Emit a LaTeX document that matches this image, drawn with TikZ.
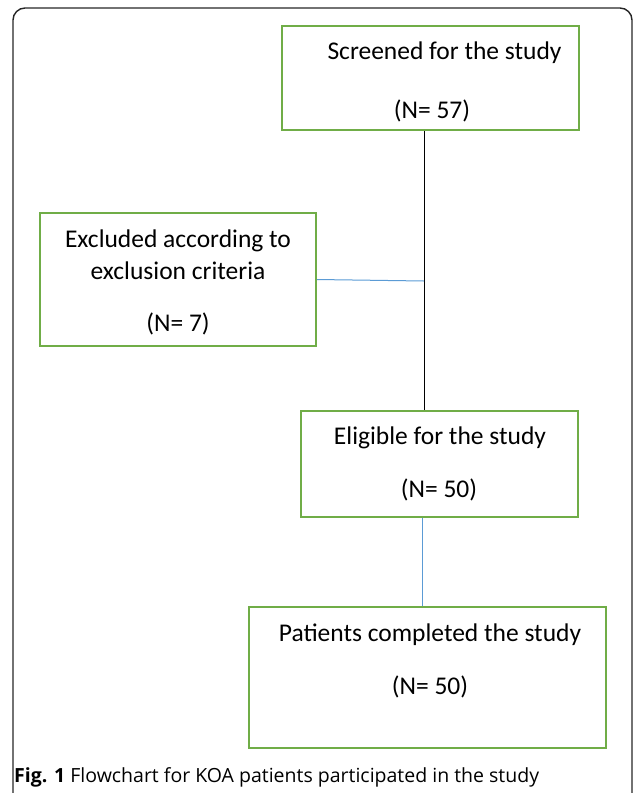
\documentclass[tikz,border=0pt]{standalone}
\usepackage{fontspec}
\setmainfont{Carlito}
\newfontfamily\capfont{Open Sans}
\definecolor{boxgreen}{HTML}{70AD47}
\definecolor{lineblue}{HTML}{5B9BD5}
\begin{document}
\begin{tikzpicture}[x=1pt,y=-1pt,
  flowbox/.style={draw=boxgreen,line width=2pt,rectangle,inner sep=0pt},
  boxtext/.style={inner sep=0pt,anchor=base,font=\fontsize{25.5}{30}\selectfont},
  blueline/.style={draw=lineblue,line width=1pt},
  blackline/.style={draw=black,line width=0.9pt}]
\useasboundingbox (0,0) rectangle (633,793);
\clip (0,0) rectangle (633,793);
\draw[line width=1.4pt,draw=black!85,rounded corners=12pt] (13,8) rectangle (632,805);
% boxes
\node[flowbox,minimum width=297pt,minimum height=104pt] (b1) at (430.5,78) {};
\node[flowbox,minimum width=276pt,minimum height=133pt] (b2) at (178,279.5) {};
\node[flowbox,minimum width=277pt,minimum height=106pt] (b3) at (439.5,464) {};
\node[flowbox,minimum width=357pt,minimum height=141pt] (b4) at (427.5,677.5) {};
% texts
\node[boxtext] (t1a) at (444.5,59) {Screened for the study};
\node[boxtext] (t1b) at (432,118) {(N= 57)};
\node[boxtext] (t2a) at (178,247) {Excluded according to};
\node[boxtext] (t2b) at (178,279) {exclusion criteria};
\node[boxtext] (t2c) at (178,331) {(N= 7)};
\node[boxtext] (t3a) at (440,444) {Eligible for the study};
\node[boxtext] (t3b) at (439,497) {(N= 50)};
\node[boxtext] (t4a) at (430,641) {Patients completed the study};
\node[boxtext] (t4b) at (430,694) {(N= 50)};
% connectors
\coordinate (j) at (424,281);
\draw[blackline] (b1.south -| j) -- (b3.north -| j);
\draw[blueline] (b2.east) -- (j);
\coordinate (k) at (422,0);
\draw[blueline] (b3.south -| k) -- (b4.north -| k);
% caption
\node[inner sep=0pt,anchor=base west,font=\capfont\fontsize{19.5}{23}\selectfont] (cap) at (14,782) {\textbf{Fig. 1} Flowchart for KOA patients participated in the study};
\end{tikzpicture}
\end{document}
